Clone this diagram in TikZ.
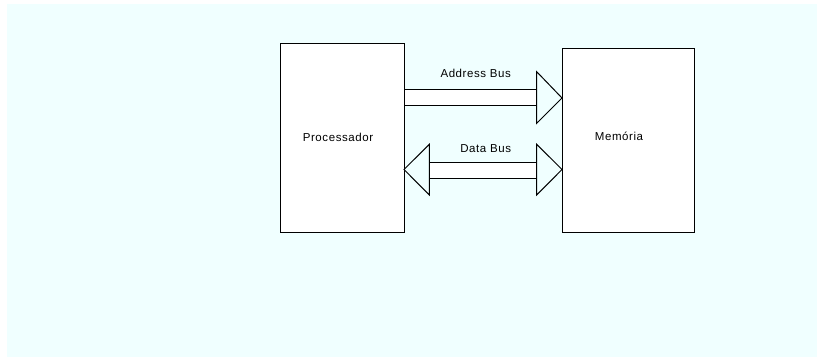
\documentclass[tikz,border=0pt]{standalone}
\usepackage{fontspec}
\setmainfont{Liberation Sans}[LetterSpace=5]
\definecolor{bgcyan}{HTML}{F0FFFF}
\begin{document}
\begin{tikzpicture}[x=1pt,y=-1pt,
  blk/.style={draw=black,fill=white,line width=1pt},
  head/.style={draw=black,fill=bgcyan,line width=1pt,line join=miter},
  lbl/.style={font=\fontsize{11.5}{13}\selectfont,inner sep=0pt}]
\useasboundingbox (0,0) rectangle (817,358);
\fill[white] (0,0) rectangle (817,358);
\fill[bgcyan] (7,4) rectangle (817,357);
% boxes
\draw[blk] (280,44) rectangle (404,233);
\draw[blk] (562,49) rectangle (694,233);
\node[lbl] (ptxt) at (338,137.3) {Processador};
\node[lbl] (mtxt) at (619,136) {Memória};
% address bus
\draw[blk] (404,89.3) rectangle (536.7,105.3);
\draw[head] (536.7,71.7) -- (562,98) -- (536.7,123.3) -- cycle;
\node[lbl] (atxt) at (475.7,73.3) {Address Bus};
% data bus
\draw[blk] (429.3,162.7) rectangle (536.7,178.3);
\draw[head] (429.3,144.3) -- (404,169.5) -- (429.3,195) -- cycle;
\draw[head] (536.7,144.3) -- (562,169.5) -- (536.7,195) -- cycle;
\node[lbl] (dtxt) at (485.7,148.3) {Data Bus};
\end{tikzpicture}
\end{document}
